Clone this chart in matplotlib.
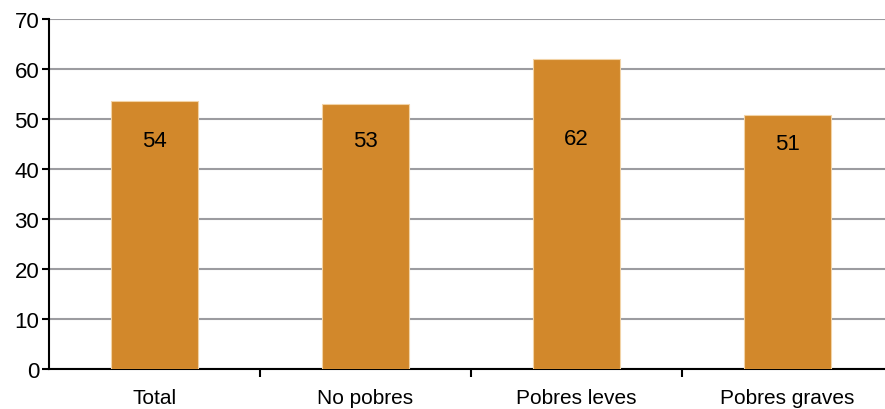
import matplotlib.pyplot as plt
from matplotlib.ticker import FixedLocator, NullFormatter

plt.rcParams['font.family'] = ['Liberation Sans', 'DejaVu Sans']

categories = ['Total', 'No pobres', 'Pobres leves', 'Pobres graves']
values = [53.6, 53.1, 62.1, 50.9]
labels = ['54', '53', '62', '51']
label_drop = [8.0, 7.4, 16.1, 5.8]

fig = plt.figure(figsize=(8.85, 4.1), dpi=100)
# the plot area runs a little past the right edge of the picture
ax = fig.add_axes([0.0554, 0.0976, 0.9537, 0.8536])

x = range(len(categories))
ax.bar(x, values, width=0.41, color='#D2882B', edgecolor='#F2D3A6', linewidth=0.8, zorder=3)

for i, (v, lab, d) in enumerate(zip(values, labels, label_drop)):
    ax.text(i, v - d, lab, ha='center', va='center', fontsize=16, color='black', zorder=4)

ax.set_xlim(-0.5, len(categories) - 0.5)
ax.set_ylim(0, 70)
ax.set_yticks(range(0, 71, 10))
ax.yaxis.grid(True, color='#9C9CA0', linewidth=1.5, zorder=0)

ax.set_xticks(list(x))
ax.set_xticklabels(categories, fontsize=15)
ax.tick_params(axis='x', which='major', length=0, pad=14)
ax.xaxis.set_minor_locator(FixedLocator([0.5, 1.5, 2.5]))
ax.xaxis.set_minor_formatter(NullFormatter())
ax.tick_params(axis='x', which='minor', length=6, width=1.5, direction='out')
ax.tick_params(axis='y', length=5, width=1.5, labelsize=16, pad=2)

for s in ['top', 'right']:
    ax.spines[s].set_visible(False)
for s in ['left', 'bottom']:
    ax.spines[s].set_linewidth(1.5)

fig.savefig('out.png', dpi=100)
